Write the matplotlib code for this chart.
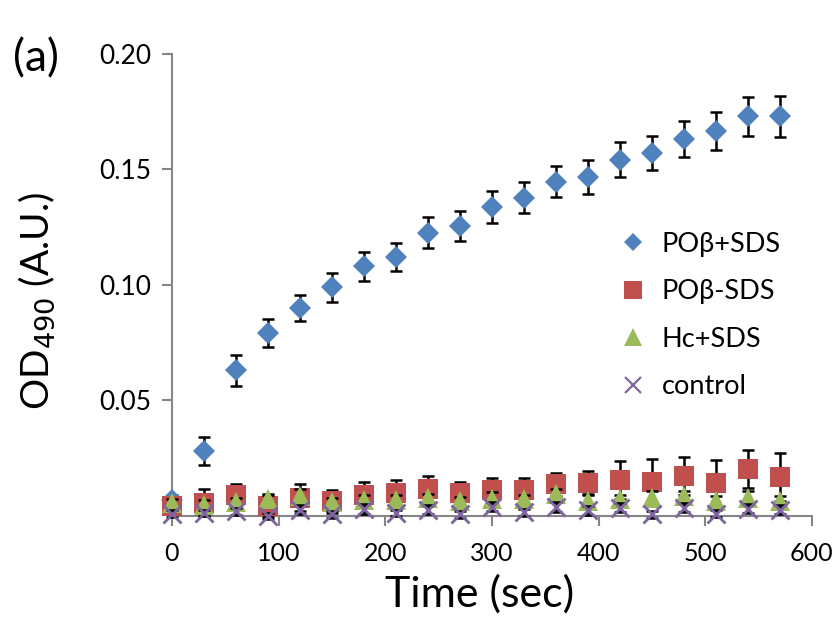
import matplotlib
matplotlib.use("Agg")
import matplotlib.pyplot as plt
from matplotlib.lines import Line2D

plt.rcParams['font.family'] = ['Lato', 'DejaVu Sans']

time_sec = [0, 30, 60, 90, 120, 150, 180, 210, 240, 270, 300, 330, 360, 390,
            420, 450, 480, 510, 540, 570]

pob_sds = [0.007, 0.028, 0.063, 0.079, 0.090, 0.099, 0.108, 0.112, 0.1225, 0.1253,
           0.1336, 0.1377, 0.1446, 0.1466, 0.1541, 0.157, 0.1629, 0.1665, 0.1728, 0.1728]
pob_sds_err = [0.002, 0.006, 0.0067, 0.006, 0.0057, 0.0063, 0.0063, 0.0062, 0.0068, 0.0065,
               0.0069, 0.0068, 0.0068, 0.0075, 0.0076, 0.0074, 0.0077, 0.0081, 0.0085, 0.0087]

pob_nosds = [0.0042, 0.0058, 0.0089, 0.0045, 0.008, 0.0063, 0.009, 0.0099, 0.0116, 0.0098,
             0.0112, 0.0111, 0.0138, 0.0141, 0.0155, 0.0147, 0.0174, 0.0141, 0.0203, 0.017]
pob_nosds_err = [0.003, 0.006, 0.005, 0.005, 0.006, 0.005, 0.0055, 0.0055, 0.0056, 0.005,
                 0.0053, 0.0053, 0.005, 0.0052, 0.0082, 0.0098, 0.0083, 0.0102, 0.0083, 0.0104]

hc_sds = [0.0055, 0.0049, 0.006, 0.0073, 0.0085, 0.006, 0.0069, 0.0069, 0.0076, 0.0064,
          0.0075, 0.0072, 0.0095, 0.0067, 0.0072, 0.008, 0.0087, 0.0065, 0.008, 0.0065]
hc_sds_err = [0.002, 0.002, 0.002, 0.002, 0.003, 0.002, 0.002, 0.002, 0.002, 0.002,
              0.003, 0.002, 0.002, 0.003, 0.002, 0.003, 0.002, 0.002, 0.003, 0.002]

control = [0.001, 0.0013, 0.002, 0.0, 0.0027, 0.0007, 0.003, 0.0013, 0.0027, 0.0007,
           0.004, 0.0017, 0.0039, 0.0024, 0.0036, 0.0007, 0.0036, 0.001, 0.0032, 0.0027]
control_err = [0.0015, 0.0015, 0.0015, 0.0015, 0.002, 0.0015, 0.002, 0.0015, 0.002, 0.0015,
               0.002, 0.0015, 0.002, 0.002, 0.002, 0.0015, 0.002, 0.0015, 0.002, 0.002]

labels = ['POβ+SDS', 'POβ-SDS', 'Hc+SDS', 'control']
colors = ['#4F81BD', '#C0504D', '#9BBB59', '#8064A2']
xtick_labels = ['0', '100', '200', '300', '400', '500', '600']
ytick_labels = ['0.05', '0.10', '0.15', '0.20']

fig = plt.figure(figsize=(8.36, 6.2), dpi=100)
ax = fig.add_axes([0.2057, 0.1677, 0.7655, 0.746])

series = [
    (pob_sds, pob_sds_err, 'D', 10.7, colors[0]),
    (pob_nosds, pob_nosds_err, 's', 14.4, colors[1]),
    (hc_sds, hc_sds_err, '^', 14.4, colors[2]),
    (control, control_err, 'x', 13, colors[3]),
]
z = 3
for vals, err, mk, ms, col in series:
    eb = ax.errorbar(time_sec, vals, yerr=err, fmt='none', ecolor='black',
                     elinewidth=1.8, capsize=4.3, capthick=1.8, zorder=z)
    for art in list(eb.lines[1]) + list(eb.lines[2]):
        art.set_clip_on(False)
    ax.plot(time_sec, vals, linestyle='none', marker=mk, markersize=ms,
            color=col, markeredgewidth=(2 if mk == 'x' else 0), clip_on=False, zorder=z + 1)
    z += 2

ax.set_xlim(0, 600)
ax.set_ylim(0, 0.20)
ax.set_xticks([0, 100, 200, 300, 400, 500, 600])
ax.set_yticks([0.05, 0.10, 0.15, 0.20])
ax.set_yticklabels(ytick_labels, fontsize=19)
ax.set_xticklabels(xtick_labels, fontsize=18,
                   family=['Liberation Sans Narrow', 'Lato', 'DejaVu Sans'])

for s in ['top', 'right']:
    ax.spines[s].set_visible(False)
for s in ['left', 'bottom']:
    ax.spines[s].set_color('#868686')
    ax.spines[s].set_linewidth(1.5)
ax.tick_params(axis='both', direction='out', color='#868686', width=1.5, length=7)
ax.tick_params(axis='x', pad=12)
ax.tick_params(axis='y', pad=8)

ax.set_xlabel('Time (sec)', fontsize=31)
ax.xaxis.set_label_coords(0.481, -0.125)
ax.set_ylabel('OD$_{490}$ (A.U.)', fontsize=28)
ax.yaxis.set_label_coords(-0.18, 0.465)
fig.text(0.016, 0.905, '(a)', fontsize=32, ha='left', va='center')

handles = [
    Line2D([], [], linestyle='none', marker='D', markersize=9, color=colors[0], markeredgewidth=0),
    Line2D([], [], linestyle='none', marker='s', markersize=12.5, color=colors[1], markeredgewidth=0),
    Line2D([], [], linestyle='none', marker='^', markersize=12.5, color=colors[2], markeredgewidth=0),
    Line2D([], [], linestyle='none', marker='x', markersize=11, color=colors[3], markeredgewidth=1.6),
]
ax.legend(handles, labels, loc='upper left', bbox_to_anchor=(0.70, 0.615),
          frameon=False, fontsize=19.5, handlelength=1.0, handletextpad=0.55,
          labelspacing=0.83, borderpad=0, borderaxespad=0)

fig.savefig('out.png', dpi=100)
